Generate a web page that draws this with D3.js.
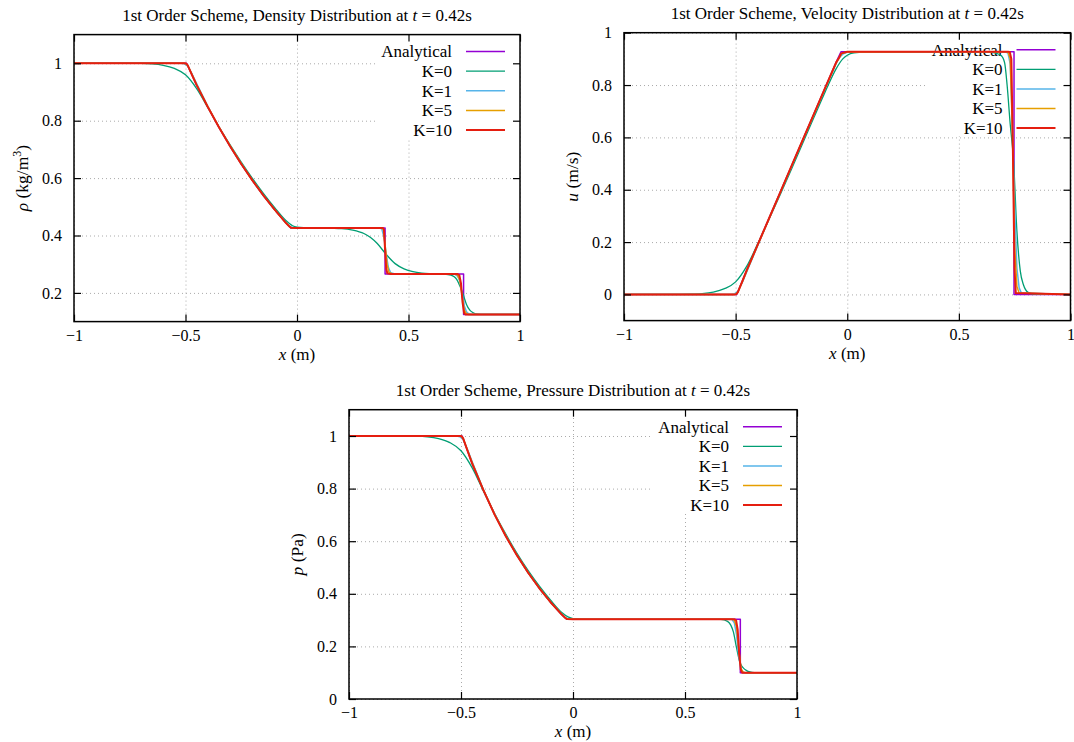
<!DOCTYPE html>
<html>
<head>
<meta charset="utf-8">
<script src="https://cdn.jsdelivr.net/npm/d3@7"></script>
<style>
  body { margin: 0; background: #fff; }
  svg { display: block; }
  text { font-family: "Liberation Serif", "Times New Roman", serif; fill: #000; }
  .tick text { font-size: 16px; }
</style>
</head>
<body>
<svg id="fig" width="1074" height="742"></svg>
<script>
// ---- Sod shock tube, first order scheme, t = 0.42 s ----

const xTicks = [-1, -0.5, 0, 0.5, 1];
const rhoTicks = [0.2, 0.4, 0.6, 0.8, 1];
const uTicks = [0, 0.2, 0.4, 0.6, 0.8, 1];
const pTicks = [0, 0.2, 0.4, 0.6, 0.8, 1];
const seriesNames = ["Analytical", "K=0", "K=1", "K=5", "K=10"];

// Exact Riemann solution
const xExact   = [-1, -0.495, -0.45, -0.4, -0.35, -0.3, -0.25, -0.2, -0.15, -0.1, -0.05, -0.028, 0.395, 0.395, 0.747, 0.747, 1];
const rhoExact = [1, 1, 0.9237, 0.8477, 0.7767, 0.7106, 0.6491, 0.5918, 0.5387, 0.4895, 0.4440, 0.4263, 0.4263, 0.2656, 0.2656, 0.125, 0.125];
const uExact   = [0, 0, 0.0932, 0.1924, 0.2916, 0.3908, 0.4900, 0.5892, 0.6884, 0.7876, 0.8868, 0.9274, 0.9274, 0.9274, 0.9274, 0, 0];
const pExact   = [1, 1, 0.8948, 0.7934, 0.7020, 0.6198, 0.5460, 0.4798, 0.4207, 0.3679, 0.3208, 0.3031, 0.3031, 0.3031, 0.3031, 0.1, 0.1];

// K = 0
const xK0   = [-1, -0.8, -0.7, -0.65, -0.6, -0.55, -0.5, -0.45, -0.4, -0.35,
               -0.3, -0.25, -0.2, -0.15, -0.1, -0.05, -0.02, 0, 0.03, 0.1,
               0.2, 0.25, 0.3, 0.33, 0.36, 0.4, 0.44, 0.48, 0.52, 0.56,
               0.6, 0.64, 0.66, 0.69, 0.705, 0.716, 0.73, 0.745, 0.76, 0.775,
               0.79, 0.81, 0.84, 1];
const rhoK0 = [1, 1, 0.9995, 0.998, 0.993, 0.982, 0.960, 0.912, 0.846, 0.779,
               0.716, 0.656, 0.599, 0.546, 0.497, 0.452, 0.434, 0.429, 0.427, 0.4262,
               0.424, 0.419, 0.407, 0.393, 0.372, 0.334, 0.302, 0.284, 0.274, 0.269,
               0.267, 0.266, 0.2655, 0.262, 0.256, 0.247, 0.225, 0.195, 0.160, 0.140,
               0.131, 0.126, 0.125, 0.125];
const uK0   = [0, 0, 0.001, 0.003, 0.009, 0.022, 0.048, 0.108, 0.195, 0.288,
               0.382, 0.478, 0.577, 0.675, 0.772, 0.862, 0.900, 0.914, 0.923, 0.927,
               0.927, 0.927, 0.927, 0.927, 0.927, 0.927, 0.927, 0.927, 0.927, 0.927,
               0.927, 0.926, 0.923, 0.912, 0.885, 0.80, 0.65, 0.51, 0.24, 0.09,
               0.035, 0.008, 0.001, 0];
const pK0   = [1, 1, 0.9993, 0.997, 0.990, 0.975, 0.944, 0.879, 0.791, 0.705,
               0.627, 0.554, 0.488, 0.429, 0.376, 0.329, 0.311, 0.306, 0.304, 0.3031,
               0.3031, 0.3031, 0.3031, 0.3031, 0.3031, 0.3031, 0.3031, 0.3031, 0.3031, 0.3031,
               0.3031, 0.3030, 0.3025, 0.295, 0.280, 0.255, 0.195, 0.140, 0.118, 0.108,
               0.103, 0.1005, 0.1, 0.1];

// K = 1
const xK1   = [-1, -0.52, -0.505, -0.49, -0.47, -0.45, -0.4, -0.35, -0.3, -0.25,
               -0.2, -0.15, -0.1, -0.05, -0.035, -0.02, 0,
               0.37, 0.38, 0.39, 0.40, 0.41, 0.42, 0.44,
               0.70, 0.71, 0.72, 0.73, 0.74, 0.75, 0.76, 0.77, 0.78, 1];
const rhoK1 = [1, 1, 0.998, 0.99, 0.962, 0.929, 0.850, 0.778, 0.711, 0.650,
               0.592, 0.539, 0.490, 0.445, 0.433, 0.4275, 0.4265,
               0.4263, 0.423, 0.395, 0.335, 0.288, 0.270, 0.2658,
               0.2656, 0.264, 0.258, 0.242, 0.200, 0.155, 0.134, 0.127, 0.125, 0.125];
const uK1   = [0, 0, 0.002, 0.012, 0.046, 0.087, 0.189, 0.290, 0.389, 0.488,
               0.587, 0.686, 0.785, 0.882, 0.905, 0.918, 0.925,
               0.927, 0.927, 0.927, 0.927, 0.927, 0.927, 0.927,
               0.927, 0.926, 0.922, 0.88, 0.65, 0.33, 0.10, 0.025, 0.005, 0];
const pK1   = [1, 1, 0.997, 0.986, 0.947, 0.902, 0.796, 0.703, 0.620, 0.547,
               0.480, 0.421, 0.368, 0.321, 0.309, 0.304, 0.3033,
               0.3031, 0.3031, 0.3031, 0.3031, 0.3031, 0.3031, 0.3031,
               0.3031, 0.302, 0.290, 0.245, 0.165, 0.112, 0.102, 0.1, 0.1, 0.1];

// K = 5
const xK5   = [-1, -0.51, -0.5, -0.49, -0.47, -0.45, -0.4, -0.35, -0.3, -0.25,
               -0.2, -0.15, -0.1, -0.05, -0.035, -0.025, 0,
               0.38, 0.388, 0.396, 0.404, 0.412, 0.43,
               0.71, 0.72, 0.73, 0.74, 0.75, 0.76, 0.77, 1];
const rhoK5 = [1, 1, 0.999, 0.993, 0.959, 0.926, 0.849, 0.778, 0.712, 0.650,
               0.592, 0.539, 0.490, 0.444, 0.432, 0.427, 0.4264,
               0.4263, 0.420, 0.36, 0.30, 0.272, 0.2656,
               0.2656, 0.262, 0.245, 0.19, 0.14, 0.127, 0.125, 0.125];
const uK5   = [0, 0, 0.001, 0.008, 0.049, 0.091, 0.191, 0.290, 0.390, 0.489,
               0.588, 0.687, 0.786, 0.884, 0.906, 0.920, 0.926,
               0.927, 0.927, 0.927, 0.927, 0.927, 0.927,
               0.927, 0.926, 0.90, 0.62, 0.18, 0.03, 0.005, 0];
const pK5   = [1, 1, 0.999, 0.990, 0.943, 0.898, 0.795, 0.702, 0.620, 0.546,
               0.480, 0.421, 0.368, 0.321, 0.309, 0.304, 0.3032,
               0.3031, 0.3031, 0.3031, 0.3031, 0.3031, 0.3031,
               0.3031, 0.300, 0.275, 0.19, 0.115, 0.102, 0.1, 0.1];

// K = 10
const xK10   = [-1, -0.505, -0.497, -0.49, -0.47, -0.45, -0.4, -0.35, -0.3, -0.25,
                -0.2, -0.15, -0.1, -0.05, -0.035, -0.027, 0,
                0.385, 0.39, 0.395, 0.40, 0.405, 0.42,
                0.72, 0.728, 0.735, 0.742, 0.749, 0.755, 1];
const rhoK10 = [1, 1, 0.9995, 0.993, 0.958, 0.924, 0.848, 0.777, 0.711, 0.649,
                0.592, 0.539, 0.490, 0.444, 0.432, 0.4268, 0.4263,
                0.4263, 0.421, 0.35, 0.285, 0.268, 0.2656,
                0.2656, 0.262, 0.235, 0.17, 0.13, 0.125, 0.125];
const uK10   = [0, 0, 0.0005, 0.009, 0.050, 0.093, 0.192, 0.291, 0.390, 0.490,
                0.589, 0.688, 0.787, 0.886, 0.907, 0.921, 0.927,
                0.927, 0.927, 0.927, 0.927, 0.927, 0.927,
                0.927, 0.926, 0.90, 0.55, 0.10, 0.005, 0];
const pK10   = [1, 1, 0.9993, 0.990, 0.942, 0.895, 0.794, 0.701, 0.619, 0.546,
                0.480, 0.421, 0.368, 0.321, 0.309, 0.3038, 0.3031,
                0.3031, 0.3031, 0.3031, 0.3031, 0.3031, 0.3031,
                0.3031, 0.300, 0.265, 0.17, 0.112, 0.1, 0.1];

// ---- styling ----
const seriesColors = ["#9400d3", "#009e73", "#56b4e9", "#e69f00", "#e51e10"];
const seriesWidths = [1.5, 1.3, 1.5, 1.5, 2];

const panels = [
  { name: "Density", box: { l: 74, r: 520, t: 34.6, b: 321.6 }, yDomain: [0.1, 1.1], yTicks: rhoTicks,
    ySym: "ρ", yUnit: ["(kg/m", "3", ")"],
    xs: [xExact, xK0, xK1, xK5, xK10], ys: [rhoExact, rhoK0, rhoK1, rhoK5, rhoK10] },
  { name: "Velocity", box: { l: 624, r: 1070.5, t: 32.7, b: 320.6 }, yDomain: [-0.1, 1], yTicks: uTicks,
    ySym: "u", yUnit: ["(m/s)"],
    xs: [xExact, xK0, xK1, xK5, xK10], ys: [uExact, uK0, uK1, uK5, uK10] },
  { name: "Pressure", box: { l: 349, r: 797, t: 409.7, b: 699 }, yDomain: [0, 1.1], yTicks: pTicks,
    ySym: "p", yUnit: ["(Pa)"],
    xs: [xExact, xK0, xK1, xK5, xK10], ys: [pExact, pK0, pK1, pK5, pK10] }
];

const svg = d3.select("#fig");
const fmt = d3.format("~g");
const defs = svg.append("defs");

panels.forEach((p, pi) => {
  const b = p.box;
  const x = d3.scaleLinear().domain([-1, 1]).range([b.l, b.r]);
  const y = d3.scaleLinear().domain(p.yDomain).range([b.b, b.t]);
  const g = svg.append("g");

  // dotted grid
  const gx = g.append("g").attr("transform", `translate(0,${b.b})`)
    .call(d3.axisBottom(x).tickValues(xTicks).tickSize(-(b.b - b.t)).tickFormat(""));
  const gy = g.append("g").attr("transform", `translate(${b.l},0)`)
    .call(d3.axisLeft(y).tickValues(p.yTicks).tickSize(-(b.r - b.l)).tickFormat(""));
  [gx, gy].forEach(s => {
    s.select(".domain").remove();
    s.selectAll("line").attr("stroke", "#aaaaaa").attr("stroke-width", 1).attr("stroke-dasharray", "1,3");
  });

  // key
  const textEnd = b.r - 68, sx0 = b.r - 54, sx1 = b.r - 15;
  const rowY = i => b.t + 17 + i * 19.6;
  g.append("rect").attr("x", textEnd - 76).attr("y", b.t + 1)
    .attr("width", b.r - 1 - (textEnd - 76)).attr("height", rowY(4) + 8 - b.t - 1).attr("fill", "#fff");
  seriesNames.forEach((nm, i) => {
    g.append("text").attr("x", textEnd).attr("y", rowY(i) + 5.8).attr("text-anchor", "end")
      .attr("font-size", 17).text(nm);
    g.append("line").attr("x1", sx0).attr("x2", sx1).attr("y1", rowY(i)).attr("y2", rowY(i))
      .attr("stroke", seriesColors[i]).attr("stroke-width", seriesWidths[i]);
  });

  // curves (the diffusive K=0 profile is drawn with a smooth monotone curve)
  const clipId = "clip" + pi;
  defs.append("clipPath").attr("id", clipId).append("rect")
    .attr("x", b.l).attr("y", b.t).attr("width", b.r - b.l).attr("height", b.b - b.t);
  const curves = g.append("g").attr("clip-path", `url(#${clipId})`);
  seriesNames.forEach((nm, i) => {
    const line = d3.line().x(d => x(d[0])).y(d => y(d[1]))
      .curve(i === 1 ? d3.curveMonotoneX : d3.curveLinear);
    const pts = p.xs[i].map((xv, k) => [xv, p.ys[i][k]]);
    curves.append("path").attr("d", line(pts)).attr("fill", "none")
      .attr("stroke", seriesColors[i]).attr("stroke-width", seriesWidths[i])
      .attr("stroke-linejoin", "round");
  });

  // frame
  g.append("rect").attr("x", b.l).attr("y", b.t).attr("width", b.r - b.l).attr("height", b.b - b.t)
    .attr("fill", "none").attr("stroke", "#000").attr("stroke-width", 1.5);

  // inward ticks on all four sides
  const axes = [
    g.append("g").attr("transform", `translate(0,${b.b})`)
      .call(d3.axisBottom(x).tickValues(xTicks).tickSize(-7).tickPadding(8).tickFormat(fmt)),
    g.append("g").attr("transform", `translate(0,${b.t})`)
      .call(d3.axisTop(x).tickValues(xTicks).tickSize(-7).tickFormat("")),
    g.append("g").attr("transform", `translate(${b.l},0)`)
      .call(d3.axisLeft(y).tickValues(p.yTicks).tickSize(-7).tickPadding(12).tickFormat(fmt)),
    g.append("g").attr("transform", `translate(${b.r},0)`)
      .call(d3.axisRight(y).tickValues(p.yTicks).tickSize(-7).tickFormat(""))
  ];
  axes.forEach(a => {
    a.select(".domain").remove();
    a.selectAll("line").attr("stroke", "#000").attr("stroke-width", 1.2);
  });

  // title
  const cx = (b.l + b.r) / 2;
  const title = g.append("text").attr("x", cx).attr("y", b.t - 14).attr("text-anchor", "middle").attr("font-size", 17);
  title.append("tspan").text(`1st Order Scheme, ${p.name} Distribution at `);
  title.append("tspan").attr("font-style", "italic").text("t");
  title.append("tspan").text(" = 0.42s");

  // x label
  const xl = g.append("text").attr("x", cx).attr("y", b.b + 38).attr("text-anchor", "middle").attr("font-size", 17);
  xl.append("tspan").attr("font-style", "italic").text("x");
  xl.append("tspan").text(" (m)");

  // y label
  const cy = (b.t + b.b) / 2;
  const yl = g.append("text").attr("transform", `translate(${b.l - 46},${cy}) rotate(-90)`)
    .attr("text-anchor", "middle").attr("font-size", 17.5);
  yl.append("tspan").attr("font-style", "italic").text(p.ySym + " ");
  yl.append("tspan").text(p.yUnit[0]);
  if (p.yUnit.length > 1) {
    yl.append("tspan").attr("dy", -7).attr("font-size", 12).text(p.yUnit[1]);
    yl.append("tspan").attr("dy", 7).text(p.yUnit[2]);
  }
});
</script>
</body>
</html>
